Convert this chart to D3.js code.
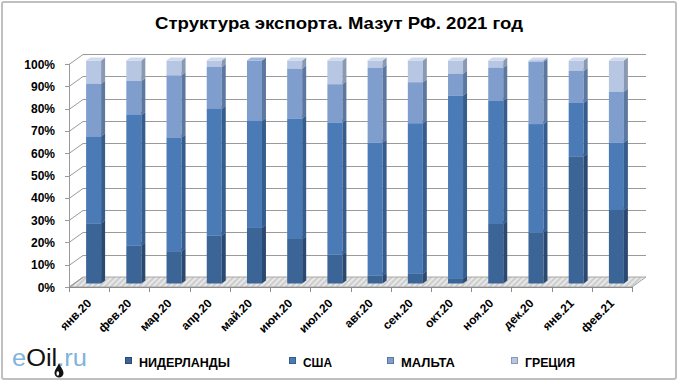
<!DOCTYPE html>
<html>
<head>
<meta charset="utf-8">
<script src="https://cdn.jsdelivr.net/npm/d3@7"></script>
<style>
  body { margin: 0; background: #fff; }
  svg { display: block; font-family: "Liberation Sans", Arial, sans-serif; }
</style>
</head>
<body>
<svg></svg>
<script>
// данные (доли, %)
const months = ['янв.20', 'фев.20', 'мар.20', 'апр.20', 'май.20', 'июн.20', 'июл.20',
                'авг.20', 'сен.20', 'окт.20', 'ноя.20', 'дек.20', 'янв.21', 'фев.21']
const seriesNames = ['НИДЕРЛАНДЫ', 'США', 'МАЛЬТА', 'ГРЕЦИЯ']
const netherlands = [27, 17, 14.5, 21.5, 25, 20, 13, 3.6, 4.4, 2.1, 26.7, 22.9, 57, 33]
const usa         = [39, 58.6, 51, 56.8, 47.9, 54, 59.2, 59.6, 67.5, 82.2, 55.3, 48.6, 24, 30.2]
const malta       = [23.6, 15.2, 27.9, 18.8, 27.1, 22.4, 17.2, 33.5, 18.4, 9.8, 14.8, 27.9, 14.3, 22.9]
const greece      = [10.4, 9.2, 6.6, 2.9, 0, 3.6, 10.6, 3.3, 9.7, 5.9, 3.2, 0.6, 4.7, 13.9]
const yTickLabels = ['0%', '10%', '20%', '30%', '40%', '50%', '60%', '70%', '80%', '90%', '100%']

// цвета: лицевая грань, боковая, верхняя
const colors = [
    {front: '#3c6597', side: '#2b4a71', top: '#5a7cab'},
    {front: '#4a7bb7', side: '#355d8d', top: '#6d95c9'},
    {front: '#7f9dcd', side: '#5d789f', top: '#a0b6db'},
    {front: '#b6c6e3', side: '#8a99b2', top: '#d0dbee'}
]

let width = 680
let height = 384
let svg = d3.select('svg')
    .attr('width', width)
    .attr('height', height)

let table = months.map((m, i) => ({
    month: m,
    'НИДЕРЛАНДЫ': netherlands[i], 'США': usa[i], 'МАЛЬТА': malta[i], 'ГРЕЦИЯ': greece[i]
}))
let stacked = d3.stack().keys(seriesNames)(table)

// шкалы (передняя плоскость)
let xScale = d3.scaleBand().domain(months).range([69, 632])
let yScale = d3.scaleLinear().domain([0, 100]).range([287, 64])
let wallDx = 14, wallDy = 10        // глубина "3D"
let barDx = 4, barDy = 3, barW = 15 // размер столбца
let barOffX = 4.5, barOffY = 3.5

// рамка
svg.append('rect')
    .attr('x', 2).attr('y', 2).attr('width', 674).attr('height', 377)
    .attr('rx', 2)
    .attr('fill', '#fff').attr('stroke', '#bfbfbf').attr('stroke-width', 2)

// заголовок
svg.append('text')
    .attr('x', 339).attr('y', 29)
    .attr('text-anchor', 'middle')
    .attr('font-size', 17).attr('font-weight', 'bold')
    .attr('textLength', 368).attr('lengthAdjust', 'spacingAndGlyphs')
    .text('Структура экспорта. Мазут РФ. 2021 год')

// штриховка пола
let defs = svg.append('defs')
let pat = defs.append('pattern')
    .attr('id', 'floor').attr('patternUnits', 'userSpaceOnUse')
    .attr('width', 4).attr('height', 4)
    .attr('patternTransform', 'rotate(45)')
pat.append('rect').attr('width', 4).attr('height', 4).attr('fill', '#e8e8e8')
pat.append('rect').attr('width', 2).attr('height', 4).attr('fill', '#cdcdcd')

let x0 = xScale.range()[0], x1 = xScale.range()[1]

// пол
svg.append('path')
    .attr('d', d3.line()([
        [x0, yScale(0)], [x1, yScale(0)],
        [x1 + wallDx, yScale(0) - wallDy], [x0 + wallDx, yScale(0) - wallDy]
    ]) + 'Z')
    .attr('fill', 'url(#floor)').attr('stroke', '#a6a6a6').attr('stroke-width', 1)

// сетка: задняя стенка и боковая
let grid = svg.append('g').attr('stroke', '#9a9a9a').attr('stroke-width', 1).attr('fill', 'none')
yScale.ticks(10).forEach(t => {
    let y = Math.round(yScale(t)) + 0.5
    if (t > 0) {
        grid.append('line')
            .attr('x1', x0 + wallDx).attr('x2', x1 + wallDx)
            .attr('y1', y - wallDy).attr('y2', y - wallDy)
    }
    grid.append('line')
        .attr('x1', x0).attr('y1', y)
        .attr('x2', x0 + wallDx).attr('y2', y - wallDy)
    // засечки оси Y
    grid.append('line')
        .attr('x1', x0 - 4).attr('x2', x0)
        .attr('y1', y).attr('y2', y)
})
grid.append('line')
    .attr('x1', x0 + 0.5).attr('x2', x0 + 0.5)
    .attr('y1', yScale(0)).attr('y2', yScale(100))

// подписи оси Y
svg.append('g').selectAll('text').data(yTickLabels).enter()
    .append('text')
    .attr('x', 55)
    .attr('y', (d, i) => yScale(i * 10) + 4.5)
    .attr('text-anchor', 'end')
    .attr('font-size', 12).attr('font-weight', 'bold')
    .text(d => d)

// ось X: линия и засечки
let xAxis = svg.append('g').attr('stroke', '#8c8c8c')
xAxis.append('line')
    .attr('x1', x0).attr('x2', x1)
    .attr('y1', yScale(0) + 0.5).attr('y2', yScale(0) + 0.5)
months.concat(['end']).forEach((m, i) => {
    let x = Math.round(x0 + i * xScale.bandwidth()) + 0.5
    xAxis.append('line')
        .attr('x1', x).attr('x2', x)
        .attr('y1', yScale(0)).attr('y2', yScale(0) + 5)
})

// столбцы
let yb = v => yScale(v) - barOffY
let bars = svg.append('g')
months.forEach((m, i) => {
    let bx = xScale(m) + xScale.bandwidth() / 2 + barOffX - barW / 2
    let g = bars.append('g')
    stacked.forEach((s, k) => {
        let d = s[i]
        if (d[1] - d[0] < 0.3) return
        let yTop = yb(d[1]), yBot = yb(d[0])
        let c = colors[k]
        g.append('rect')
            .attr('x', bx).attr('y', yTop)
            .attr('width', barW).attr('height', yBot - yTop)
            .attr('fill', c.front)
        g.append('path')
            .attr('d', d3.line()([
                [bx + barW, yTop], [bx + barW + barDx, yTop - barDy],
                [bx + barW + barDx, yBot - barDy], [bx + barW, yBot]
            ]) + 'Z')
            .attr('fill', c.side)
        g.append('path')
            .attr('d', d3.line()([
                [bx, yTop], [bx + barW, yTop],
                [bx + barW + barDx, yTop - barDy], [bx + barDx, yTop - barDy]
            ]) + 'Z')
            .attr('fill', c.top)
    })
})

// подписи оси X
svg.append('g').selectAll('text').data(months).enter()
    .append('text')
    .attr('transform', d => 'translate(' + (xScale(d) + xScale.bandwidth() / 2 + 3) + ',304) rotate(-45)')
    .attr('text-anchor', 'end')
    .attr('font-size', 12).attr('font-weight', 'bold')
    .text(d => d)

// легенда
let legendX = [125, 289, 387, 511]
let legendW = [91, 29, 54, 50]
let legend = svg.append('g')
seriesNames.forEach((name, k) => {
    legend.append('rect')
        .attr('x', legendX[k] + 0.5).attr('y', 357.5)
        .attr('width', 6).attr('height', 6)
        .attr('fill', colors[k].front).attr('stroke', colors[k].side)
    legend.append('text')
        .attr('x', legendX[k] + 14).attr('y', 366.5)
        .attr('font-size', 13).attr('font-weight', 'bold')
        .attr('textLength', legendW[k]).attr('lengthAdjust', 'spacingAndGlyphs')
        .text(name)
})

// логотип
let logo = svg.append('text')
    .attr('x', 12).attr('y', 366)
    .attr('font-size', 23)
    .attr('textLength', 75).attr('lengthAdjust', 'spacingAndGlyphs')
logo.append('tspan').attr('fill', '#80b3dd').text('e')
logo.append('tspan').attr('fill', '#111').text('Oil')
logo.append('tspan').attr('fill', '#80b3dd').text('.ru')
let lx = 59
svg.append('path')
    .attr('d', 'M' + lx + ',363 C' + (lx - 2) + ',368 ' + (lx - 4.5) + ',370 ' + (lx - 4.5) + ',373 A4.5,4.5 0 0 0 ' + (lx + 4.5) + ',373 C' + (lx + 4.5) + ',370 ' + (lx + 2) + ',368 ' + lx + ',363 Z')
    .attr('fill', '#111')
svg.append('ellipse')
    .attr('cx', lx - 1.2).attr('cy', 373.5).attr('rx', 1.3).attr('ry', 2.2)
    .attr('fill', '#fff')
</script>
</body>
</html>
